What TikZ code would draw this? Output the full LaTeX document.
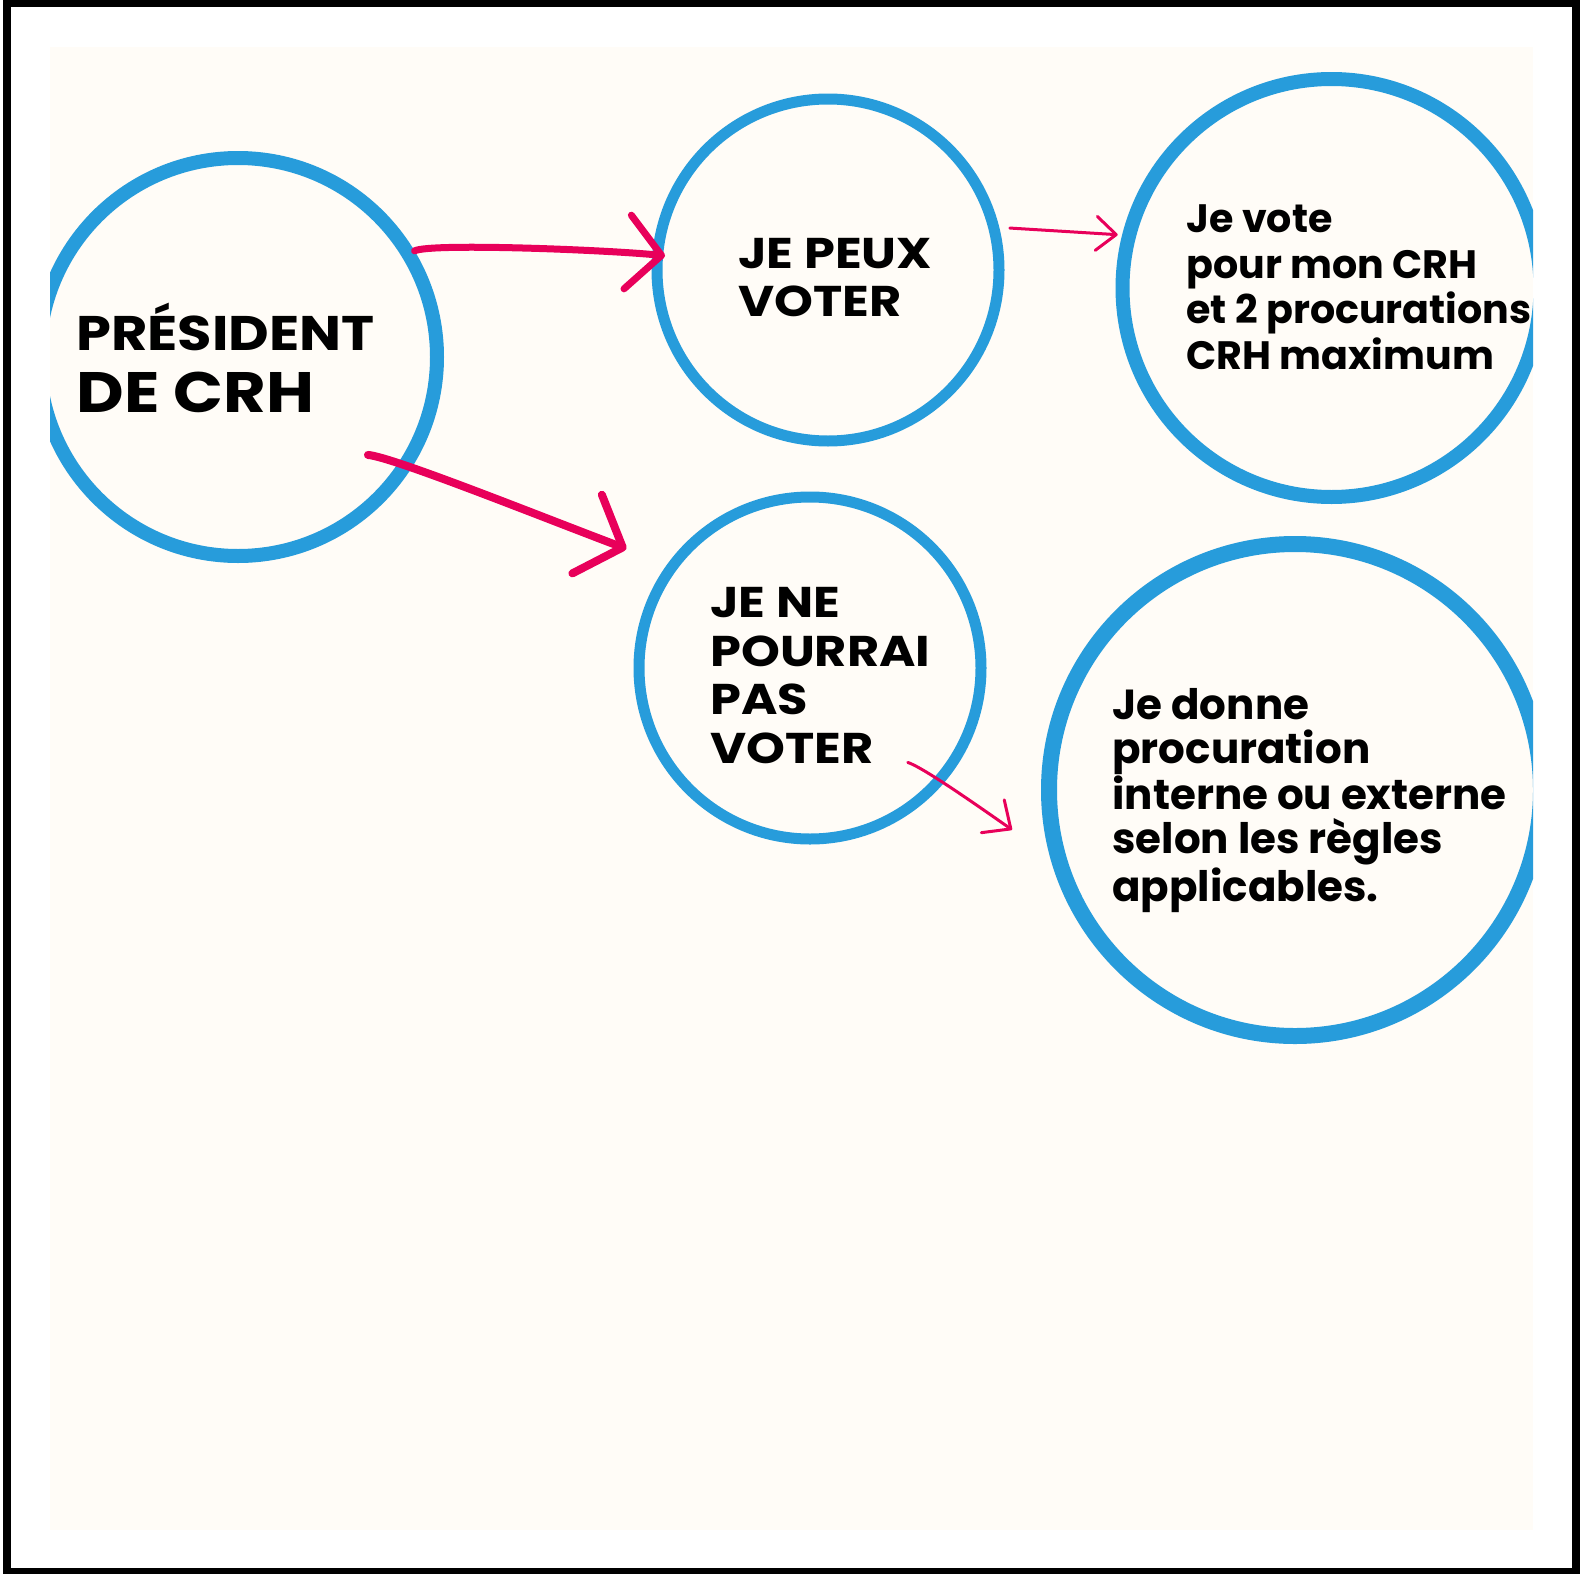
\documentclass[tikz,border=0pt]{standalone}
\usepackage{fontspec}
\setmainfont{Poppins}
\newfontfamily\widefont{Poppins}[FakeStretch=1.15]
\usetikzlibrary{arrows.meta,calc}
\definecolor{crhblue}{HTML}{279CDB}
\definecolor{crhpink}{HTML}{E8005A}
\definecolor{crhcream}{HTML}{FFFCF7}
\begin{document}
\begin{tikzpicture}[x=0.5pt,y=-0.5pt,
  ring/.style={circle,draw=crhblue,inner sep=0pt},
  crhtext/.style={anchor=base west,align=left,inner sep=0pt},
  brush/.style={draw=crhpink,line cap=round,line join=round},
  ]
% page, frame and cream sheet
\useasboundingbox (0,0) rectangle (1580,1574);
\fill[white] (0,0) rectangle (1580,1574);
\draw[line width=3.75pt] (7,3.7) rectangle (1576,1571.5);
\fill[crhcream] (50,47) rectangle (1533,1530);
% rings, cut at the sheet
\begin{scope}
\clip (50,47) rectangle (1533,1530);
\node[ring,line width=7pt,minimum size=199pt] (pres) at (238,357) {};
\node[ring,line width=5.5pt,minimum size=171pt] (peux) at (828,270) {};
\node[ring,line width=7pt,minimum size=209pt] (vote) at (1331.5,288) {};
\node[ring,line width=5.5pt,minimum size=171pt] (pas) at (810,668) {};
\node[ring,line width=8pt,minimum size=246pt] (donne) at (1295,790) {};
\end{scope}
% texts (a node with several lines sits on its last line)
\node[crhtext,font=\widefont\bfseries\fontsize{24.3}{30}\selectfont] (tpres) at (76,350) {PRÉSIDENT};
\node[crhtext,font=\widefont\bfseries\fontsize{28.5}{30}\selectfont] (tcrh) at (76,412) {DE CRH};
\node[crhtext,font=\widefont\bfseries\fontsize{21.5}{24}\selectfont] (tpeux) at (738,316) {JE PEUX\\VOTER};
\node[crhtext,font=\bfseries\fontsize{19.8}{22.7}\selectfont] (tvote) at (1186,369) {Je vote\\pour mon CRH\\et 2 procurations\\CRH maximum};
\node[crhtext,font=\widefont\bfseries\fontsize{21.5}{24.2}\selectfont] (tpas) at (710,763) {JE NE\\POURRAI\\PAS\\VOTER};
\node[crhtext,font=\bfseries\fontsize{21}{22}\selectfont] (tdonne) at (1112,901) {Je donne\\procuration\\interne ou externe\\selon les règles\\applicables.};
% brush arrows
\draw[brush,line width=3.5pt,-{Straight Barb[length=17pt,width=37pt,line width=3.5pt,round]}]
 ($(pres.center)!1!(pres.31)$) .. controls +(15,-8) and +(-60,-6) .. ($(peux.center)!0.927!(peux.175)$);
\draw[brush,line width=4pt,-{Straight Barb[length=19pt,width=42pt,line width=4pt,round]}]
 ($(pres.center)!0.79!(pres.-37)$) .. controls +(25,2) and +(-80,-30) .. ($(pas.center)!1.24!(pas.147)$);
\draw[brush,line width=1.5pt,-{Straight Barb[length=10pt,width=17pt,line width=1.5pt,round]}]
 ($(peux.center)!1.057!(peux.13)$) -- ($(vote.center)!1.02!(vote.166)$);
\draw[brush,line width=1.5pt,-{Straight Barb[length=11pt,width=20pt,line width=1.5pt,round]}]
 ($(pas.center)!0.77!(pas.-44)$) .. controls +(15,5) and +(-40,-28) .. ($(donne.center)!1.125!(donne.-172)$);
\end{tikzpicture}
\end{document}
